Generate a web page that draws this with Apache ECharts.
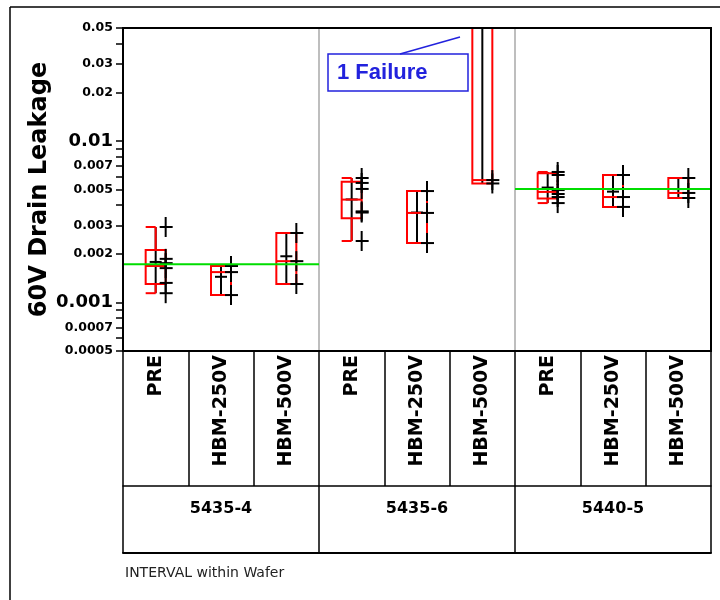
<!DOCTYPE html>
<html><head><meta charset="utf-8">
<script src="https://cdn.jsdelivr.net/npm/echarts@6/dist/echarts.min.js"></script>
<style>html,body{margin:0;padding:0;background:#fff}#c{width:720px;height:600px}</style>
</head><body><div id="c"></div>
<script>
// ---- data ----
const categories = ['PRE','HBM-250V','HBM-500V','PRE','HBM-250V','HBM-500V','PRE','HBM-250V','HBM-500V'];
const wafers = ['5435-4','5435-6','5440-5'];
const points0 = [0.00293, 0.00186, 0.00175, 0.00163, 0.00132, 0.00114];
const points1 = [0.00168, 0.00154, 0.00111];
const points2 = [0.00269, 0.00180, 0.00130];
const points3 = [0.00589, 0.00549, 0.00504, 0.00366, 0.00360, 0.00240];
const points4 = [0.00489, 0.00358, 0.00233];
const points5 = [0.5, 0.00572, 0.00545];
const points6 = [0.00642, 0.00615, 0.00496, 0.00469, 0.00449, 0.00412];
const points7 = [0.00615, 0.00449, 0.00390];
const points8 = [0.00589, 0.00476, 0.00443];
const points = [points0, points1, points2, points3, points4, points5, points6, points7, points8];
const whiskerLow  = [0.00114, 0.00111, 0.00130, 0.00240, 0.00233, 0.00545, 0.00412, 0.00390, 0.00443];
const boxQ1       = [0.00130, 0.00111, 0.00130, 0.00332, 0.00233, 0.00545, 0.00440, 0.00390, 0.00443];
const boxMedian   = [0.00168, 0.00154, 0.00180, 0.00433, 0.00358, 0.00572, 0.00483, 0.00449, 0.00476];
const boxQ3       = [0.00211, 0.00168, 0.00269, 0.00559, 0.00489, 0.5,     0.00630, 0.00615, 0.00589];
const whiskerHigh = [0.00293, 0.00168, 0.00269, 0.00589, 0.00489, 0.5,     0.00642, 0.00615, 0.00589];
const cellMeans   = [0.00178, 0.00144, 0.00193, 0.00434, 0.00360, null,    0.00514, 0.00485, 0.00503];
const waferMeans  = [0.00172, null, 0.00503];
const yMin = 0.0005, yMax = 0.05;
const tickLabelValues = [0.05, 0.03, 0.02, 0.01, 0.007, 0.005, 0.003, 0.002, 0.001, 0.0007, 0.0005];
const tickLabelTexts  = ['0.05','0.03','0.02','0.01','0.007','0.005','0.003','0.002','0.001','0.0007','0.0005'];
const bigLabels = ['0.01','0.001'];
const tickValues = [0.05,0.04,0.03,0.02,0.01,0.009,0.008,0.007,0.006,0.005,0.004,0.003,0.002,0.001,0.0009,0.0008,0.0007,0.0006,0.0005];
const failureText = '1 Failure';

// ---- chart ----
const L = Math.log10;
const BOLD = "'DejaVu Sans', sans-serif";
const chart = echarts.init(document.getElementById('c'), null, {renderer: 'canvas'});

function renderCell(params, api) {
  const i = params.dataIndex;
  const cx = api.coord([i, L(boxMedian[i])])[0];
  const Y = v => api.coord([i, L(v)])[1];
  const hw = 10;
  const black = {stroke: '#000', lineWidth: 2};
  const red = {stroke: '#ff0000', lineWidth: 2, fill: 'none'};
  const ch = [];
  const pts = points[i];
  const pmax = Math.max.apply(null, pts), pmin = Math.min.apply(null, pts);
  ch.push({type: 'line', shape: {x1: cx, y1: Y(pmin), x2: cx, y2: Y(pmax)}, style: black});
  if (cellMeans[i] != null) {
    const ym = Y(cellMeans[i]);
    ch.push({type: 'line', shape: {x1: cx - 6, y1: ym, x2: cx + 6, y2: ym}, style: black});
  }
  const yq1 = Y(boxQ1[i]), yq3 = Y(boxQ3[i]), ymed = Y(boxMedian[i]);
  ch.push({type: 'rect', shape: {x: cx - hw, y: yq3, width: 2 * hw, height: yq1 - yq3}, style: red});
  ch.push({type: 'line', shape: {x1: cx - hw, y1: ymed, x2: cx + hw, y2: ymed}, style: red});
  if (whiskerHigh[i] > boxQ3[i]) {
    const yh = Y(whiskerHigh[i]);
    ch.push({type: 'line', shape: {x1: cx, y1: yq3, x2: cx, y2: yh}, style: red});
    ch.push({type: 'line', shape: {x1: cx - hw, y1: yh, x2: cx, y2: yh}, style: red});
  }
  if (whiskerLow[i] < boxQ1[i]) {
    const yl = Y(whiskerLow[i]);
    ch.push({type: 'line', shape: {x1: cx, y1: yq1, x2: cx, y2: yl}, style: red});
    ch.push({type: 'line', shape: {x1: cx - hw, y1: yl, x2: cx, y2: yl}, style: red});
  }
  const px = cx + 10;
  pts.forEach(v => {
    const y = Y(v);
    ch.push({type: 'line', shape: {x1: px - 6, y1: y, x2: px + 7, y2: y}, style: black});
    ch.push({type: 'line', shape: {x1: px, y1: y - 10, x2: px, y2: y + 10}, style: black});
  });
  return {type: 'group', children: ch};
}

function renderMean(params, api) {
  const c = api.value(0), v = api.value(1);
  const bw = api.size([1, 0])[0];
  const p1 = api.coord([c - 1, v]), p2 = api.coord([c + 1, v]);
  return {type: 'line', shape: {x1: p1[0] - bw / 2, y1: p1[1], x2: p2[0] + bw / 2, y2: p2[1]},
          style: {stroke: '#00dd00', lineWidth: 2}};
}

const meanData = [];
waferMeans.forEach((m, g) => { if (m != null) meanData.push([g * 3 + 1, L(m)]); });

function fmtY(v) {
  let best = 0, bd = 1e9;
  tickLabelValues.forEach((t, k) => { const d = Math.abs(L(t) - v); if (d < bd) { bd = d; best = k; } });
  const txt = tickLabelTexts[best];
  return bigLabels.indexOf(txt) >= 0 ? '{b|' + txt + '}' : '{s|' + txt + '}';
}

const option = {
  animation: false,
  backgroundColor: '#fff',
  grid: {left: 123, top: 28, width: 588, height: 323, show: true, borderColor: '#000', borderWidth: 2,
         backgroundColor: 'transparent', z: 10, containLabel: false},
  xAxis: [
    {type: 'category', data: categories, position: 'bottom', boundaryGap: true,
     axisLine: {show: true, lineStyle: {color: '#000', width: 2}},
     axisTick: {show: true, interval: 0, length: 135, lineStyle: {color: '#000', width: 1.5}},
     axisLabel: {interval: 0, rotate: 90, margin: 4, fontSize: 19, fontWeight: 'bold', color: '#000', fontFamily: BOLD},
     splitLine: {show: false}},
    {type: 'category', data: wafers, position: 'bottom', offset: 135, boundaryGap: true,
     axisLine: {show: true, lineStyle: {color: '#000', width: 1.5}},
     axisTick: {show: true, interval: 0, length: 67, lineStyle: {color: '#000', width: 1.5}},
     axisLabel: {interval: 0, margin: 15, fontSize: 16, fontWeight: 'bold', color: '#000', fontFamily: BOLD},
     splitLine: {show: true, lineStyle: {color: '#a8a8a8', width: 1.5}}},
    {type: 'category', data: wafers, position: 'bottom', offset: 202, boundaryGap: true,
     axisLine: {show: true, lineStyle: {color: '#000', width: 2}},
     axisTick: {show: false}, axisLabel: {show: false}, splitLine: {show: false}}
  ],
  yAxis: {
    type: 'value', min: L(yMin), max: L(yMax),
    name: '60V Drain Leakage', nameLocation: 'middle', nameGap: 71, nameMoveOverlap: false,
    nameTextStyle: {fontSize: 24, fontWeight: 'bold', color: '#000', fontFamily: BOLD},
    axisLine: {show: true, lineStyle: {color: '#000', width: 2}},
    axisTick: {show: true, length: 7, customValues: tickValues.map(L), lineStyle: {color: '#000', width: 1.5}},
    axisLabel: {customValues: tickLabelValues.map(L), margin: 10, formatter: fmtY, color: '#000',
      rich: {b: {fontSize: 18, fontWeight: 'bold', fontFamily: BOLD, color: '#000'},
             s: {fontSize: 12.5, fontWeight: 'bold', fontFamily: BOLD, color: '#000'}}},
    splitLine: {show: false}
  },
  series: [
    {type: 'custom', name: 'cells', xAxisIndex: 0, clip: true, renderItem: renderCell,
     data: categories.map((c, i) => [i, L(boxMedian[i])]), encode: {x: 0, y: 1}, z: 3},
    {type: 'custom', name: 'waferMean', xAxisIndex: 0, clip: true, renderItem: renderMean,
     data: meanData, encode: {x: 0, y: 1}, z: 5}
  ],
  graphic: [
    {type: 'line', shape: {x1: 10, y1: 7, x2: 10, y2: 600}, style: {stroke: '#000', lineWidth: 1.5}},
    {type: 'line', shape: {x1: 10, y1: 7, x2: 720, y2: 7}, style: {stroke: '#000', lineWidth: 1.5}},
    {type: 'rect', shape: {x: 328, y: 54, width: 140, height: 37}, style: {stroke: '#2222dd', lineWidth: 1.5, fill: '#fff'}, z: 20},
    {type: 'line', shape: {x1: 400, y1: 54, x2: 460, y2: 37}, style: {stroke: '#2222dd', lineWidth: 1.5}, z: 20},
    {type: 'text', x: 337, y: 73, z: 21, style: {text: failureText, fill: '#2222dd', font: "bold 22px 'Liberation Sans', Arial, sans-serif", verticalAlign: 'middle'}},
    {type: 'text', x: 125, y: 573, style: {text: 'INTERVAL within Wafer', fill: '#222', font: "14px 'DejaVu Sans', sans-serif", verticalAlign: 'middle'}}
  ]
};
chart.setOption(option);
</script></body></html>
